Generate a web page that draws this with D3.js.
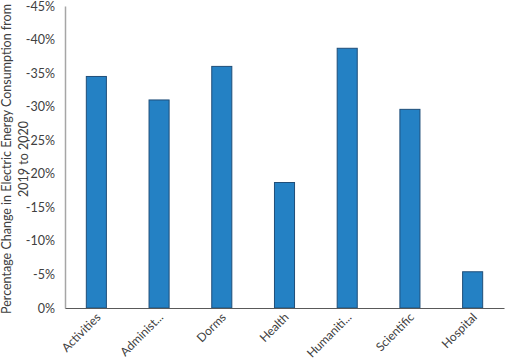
<!DOCTYPE html>
<html>
<head>
<meta charset="utf-8">
<script src="https://cdn.jsdelivr.net/npm/d3@7"></script>
<style>
  body { margin: 0; background: #fff; }
  text { font-family: Lato, "Open Sans", sans-serif; fill: #404040; }
</style>
</head>
<body>
<script>
const categories = ["Activities", "Administ...", "Dorms", "Health", "Humaniti...", "Scientific", "Hospital"]
const values = [-34.5, -31.0, -36.0, -18.7, -38.7, -29.6, -5.4]
const yTicks = [0, -5, -10, -15, -20, -25, -30, -35, -40, -45]
const yTitle = ["Percentage Change in Electric Energy Consumption from", "2019 to 2020"]

const width = 505, height = 361
const mLeft = 65, mRight = 504, mTop = 6, mBottom = 308

const svg = d3.select("body").append("svg")
    .attr("width", width)
    .attr("height", height)

const x = d3.scaleBand()
    .domain(categories)
    .range([mLeft, mRight])
    .paddingInner(0.68)
    .paddingOuter(0.34)

const y = d3.scaleLinear()
    .domain([0, -45])
    .range([mBottom, mTop])

// bars
svg.append("g")
    .selectAll("rect")
    .data(values)
    .enter()
    .append("rect")
    .attr("x", (d, i) => x(categories[i]))
    .attr("width", x.bandwidth())
    .attr("y", d => y(d))
    .attr("height", d => y(0) - y(d))
    .attr("fill", "#2481c4")
    .attr("stroke", "#1f4e79")
    .attr("stroke-width", 1)

// y axis
const yAxis = svg.append("g")
    .attr("transform", `translate(${mLeft},0)`)
    .call(d3.axisLeft(y).tickValues(yTicks).tickSize(0).tickPadding(10).tickFormat(d => d + "%"))
yAxis.select(".domain").attr("stroke", "#a6a6a6").attr("stroke-width", 1.5)
yAxis.selectAll("text").attr("font-size", 12.5).attr("fill", "#404040").attr("font-family", "Lato")

// x axis
const xAxis = svg.append("g")
    .attr("transform", `translate(0,${mBottom})`)
    .call(d3.axisBottom(x).tickSize(0).tickFormat(""))
xAxis.select(".domain").attr("stroke", "#595959").attr("stroke-width", 1.2)

svg.append("g")
    .selectAll("text")
    .data(categories)
    .enter()
    .append("text")
    .attr("transform", d => `translate(${x(d) + x.bandwidth() / 2 + 5},${mBottom + 10}) rotate(-45)`)
    .attr("text-anchor", "end")
    .attr("font-size", 12)
    .text(d => d)

// y title
svg.append("text")
    .attr("transform", `translate(11,${(mTop + mBottom) / 2 + 2}) rotate(-90)`)
    .attr("text-anchor", "middle")
    .attr("font-size", 12.5)
    .selectAll("tspan")
    .data(yTitle)
    .enter()
    .append("tspan")
    .attr("x", 0)
    .attr("dy", (d, i) => i === 0 ? 0 : 17)
    .text(d => d)
</script>
</body>
</html>
